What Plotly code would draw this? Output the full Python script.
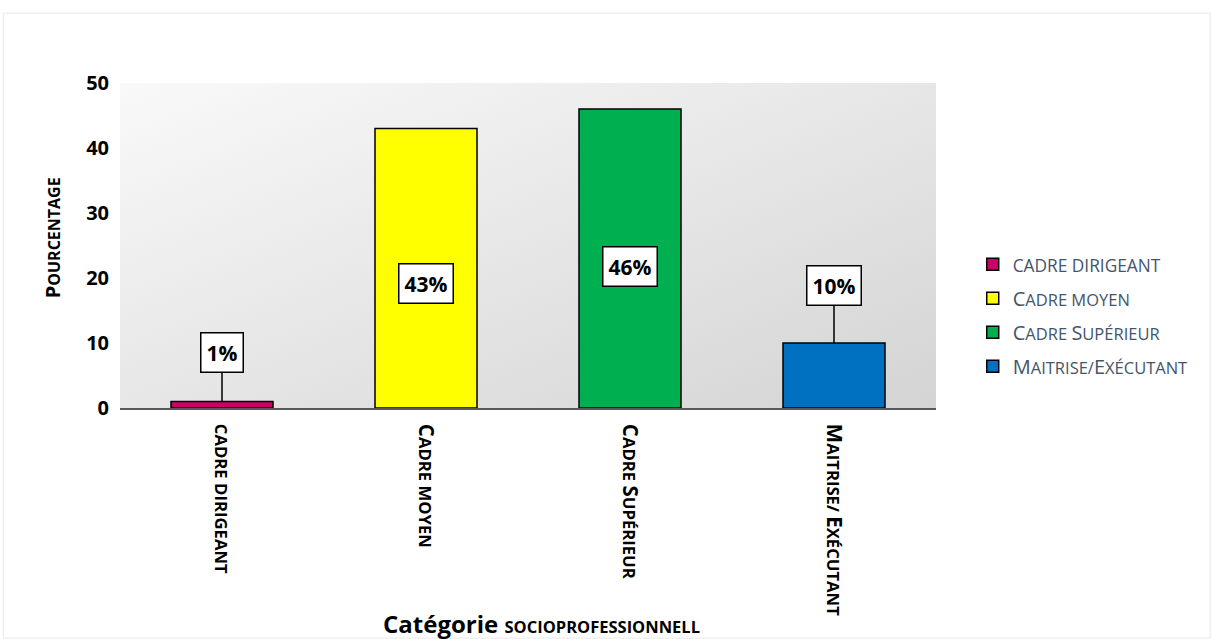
import base64
import plotly.graph_objects as go

categories = ["Cadre dirigeant", "Cadre moyen", "Cadre Supérieur", "Maitrise/Exécutant"]
values = [1, 43, 46, 10]
value_labels = ["1%", "43%", "46%", "10%"]

colors = ["#CC0066", "#FFFF00", "#00B050", "#0070C0"]
label_y = [8.5, 19.2, 21.7, 18.9]
label_leader = [True, False, False, True]

FONT = "Open Sans"
S = "<span style='font-size:{}px'>{}</span>"

TS = 16.7
tick_text = [
    S.format(TS, "CADRE DIRIGEANT"),
    "C" + S.format(TS, "ADRE MOYEN"),
    "C" + S.format(TS, "ADRE ") + "S" + S.format(TS, "UPÉRIEUR"),
    "M" + S.format(TS, "AITRISE/ ") + "E" + S.format(TS, "XÉCUTANT"),
]
LS = 16.5
legend_text = [
    S.format(17.3, "CADRE DIRIGEANT"),
    "C" + S.format(LS, "ADRE MOYEN"),
    "C" + S.format(LS, "ADRE ") + "S" + S.format(LS, "UPÉRIEUR"),
    "M" + S.format(LS, "AITRISE/") + "E" + S.format(LS, "XÉCUTANT"),
]

fig = go.Figure()
for i, cat in enumerate(categories):
    fig.add_trace(go.Bar(
        x=[cat], y=[values[i]], name=legend_text[i],
        marker=dict(color=colors[i], line=dict(color="#000000", width=1.5)),
        width=0.5, legendgroup=str(i), hoverinfo="skip",
    ))

for i, cat in enumerate(categories):
    fig.add_annotation(
        x=cat, y=values[i] if label_leader[i] else label_y[i],
        ax=0, ay=label_y[i], ayref="y",
        showarrow=label_leader[i], arrowhead=0, arrowwidth=1.5, arrowcolor="#000000",
        standoff=0,
        text="<b>" + value_labels[i] + "</b>",
        font=dict(family=FONT, size=21, color="#000000"),
        bgcolor="#FFFFFF", bordercolor="#000000", borderwidth=1.5, borderpad=5,
    )

# gradient background for plot area
svg = ("<svg xmlns='http://www.w3.org/2000/svg' width='100' height='100' preserveAspectRatio='none'>"
       "<defs><linearGradient id='g' x1='0' y1='0' x2='1' y2='1'>"
       "<stop offset='0' stop-color='#F9F9F9'/><stop offset='1' stop-color='#D4D4D4'/>"
       "</linearGradient></defs><rect width='100' height='100' fill='url(#g)'/></svg>")
src = "data:image/svg+xml;base64," + base64.b64encode(svg.encode()).decode()
fig.add_layout_image(dict(source=src, xref="paper", yref="paper", x=0, y=1,
                          sizex=1, sizey=1, sizing="stretch", layer="below",
                          xanchor="left", yanchor="top"))

# outer light border
fig.add_shape(type="rect", xref="paper", yref="paper",
              x0=-0.143, x1=1.336, y0=-0.708, y1=1.215,
              line=dict(color="#E8E8E8", width=1), layer="below")

# axis titles
fig.add_annotation(xref="paper", yref="paper", x=-0.083, y=0.523, textangle=-90,
                   xanchor="center", yanchor="middle", showarrow=False,
                   text="<b>P" + S.format(16, "OURCENTAGE") + "</b>",
                   font=dict(family=FONT, size=20, color="#000000"))
fig.add_annotation(xref="paper", yref="paper", x=0.516, y=-0.662,
                   xanchor="center", yanchor="middle", showarrow=False,
                   text="<b>Catégorie " + S.format(16.5, "SOCIOPROFESSIONNELL") + "</b>",
                   font=dict(family=FONT, size=24, color="#000000"))

fig.update_layout(
    width=1211, height=639,
    margin=dict(l=120, r=275, t=83, b=231),
    paper_bgcolor="#FFFFFF", plot_bgcolor="rgba(0,0,0,0)",
    barmode="overlay", showlegend=True,
    legend=dict(x=1.045, y=0.502, xanchor="left", yanchor="top",
                font=dict(family=FONT, size=20, color="#44546A"),
                tracegroupgap=5, bgcolor="rgba(0,0,0,0)"),
    xaxis=dict(categoryorder="array", categoryarray=categories,
               tickvals=categories, ticktext=["<b>" + t + "</b>" for t in tick_text],
               tickangle=90, tickfont=dict(family=FONT, size=20.5, color="#000000"),
               showline=True, linecolor="#595959", linewidth=1.5,
               showgrid=False, ticks="", zeroline=False, ticklabelstandoff=10),
    yaxis=dict(range=[0, 50], dtick=10, showgrid=False, zeroline=False, showline=False,
               tickfont=dict(family=FONT, size=20, color="#000000"),
               tickprefix="<b>", ticksuffix="</b>", ticks="", ticklabelstandoff=10),
    hovermode=False,
)

fig.write_html("out.html")
